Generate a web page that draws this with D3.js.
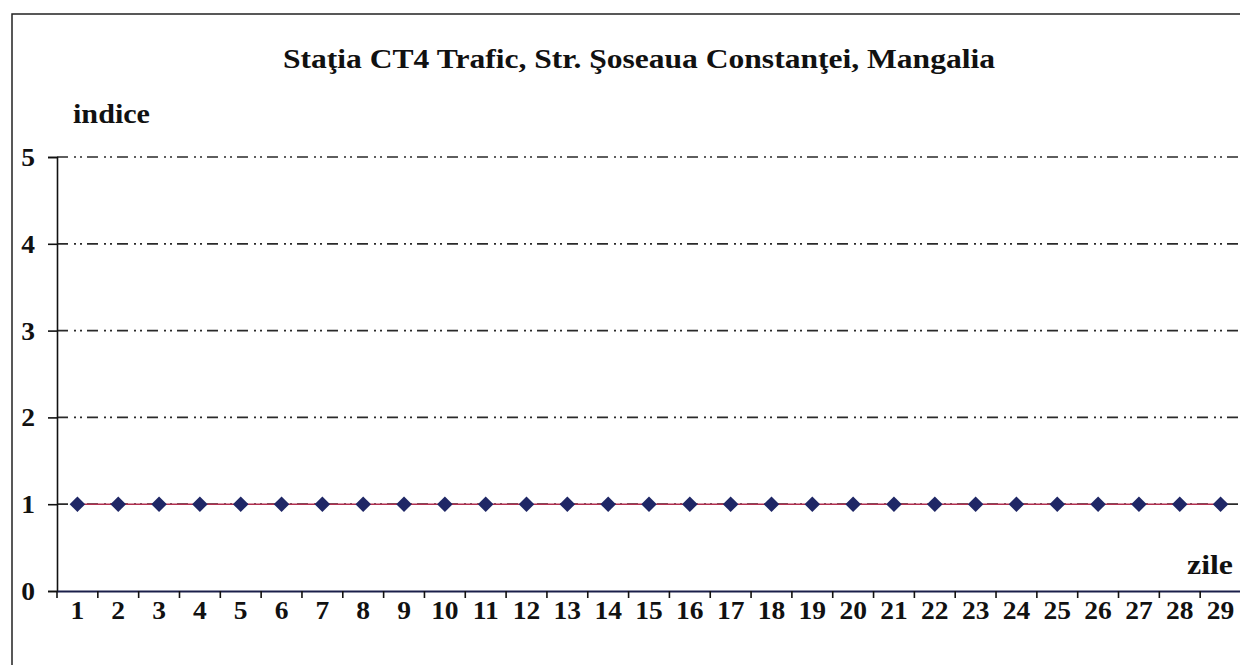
<!DOCTYPE html>
<html>
<head>
<meta charset="utf-8">
<script src="https://cdn.jsdelivr.net/npm/d3@7"></script>
<style>
  body { margin: 0; background: #fff; }
  text { font-family: "Liberation Serif", "Times New Roman", serif; font-weight: bold; fill: #111; }
</style>
</head>
<body>
<div id="chart"></div>
<script>
// days and index values
var zile = ["1","2","3","4","5","6","7","8","9","10","11","12","13","14","15","16","17","18","19","20","21","22","23","24","25","26","27","28","29"];
var indice = [1,1,1,1,1,1,1,1,1,1,1,1,1,1,1,1,1,1,1,1,1,1,1,1,1,1,1,1,1];
var yTicks = [0,1,2,3,4,5];

var width = 1240, height = 665;
var mLeft = 57, mRight = 1241, mTop = 157, mBottom = 591;
// the scanned chart is stretched sideways a little, so text is widened
var stretch = 1.1;

var svg = d3.select("#chart").append("svg")
    .attr("width", width)
    .attr("height", height);

// outer frame
svg.append("rect")
    .attr("x", 12).attr("y", 14)
    .attr("width", 1260).attr("height", 700)
    .attr("fill", "none")
    .attr("stroke", "#222")
    .attr("stroke-width", 1.5);

var xScale = d3.scaleBand().domain(zile).range([mLeft, mRight]);
var yScale = d3.scaleLinear().domain([0, 5]).range([mBottom, mTop]);

// dash-dot-dot grid lines
svg.append("g").selectAll("line")
    .data(yTicks.filter(function(d){ return d > 0; }))
    .enter().append("line")
        .attr("x1", mLeft).attr("x2", mRight)
        .attr("y1", function(d){ return yScale(d); })
        .attr("y2", function(d){ return yScale(d); })
        .attr("stroke", "#2a2a2a")
        .attr("stroke-width", 1.7)
        .attr("stroke-dasharray", "11,6,2,4,2,5");

// y axis
var yAxis = d3.axisLeft(yScale).tickValues(yTicks).tickSize(9).tickFormat(d3.format("d"));
var gy = svg.append("g")
    .attr("transform", "translate(" + mLeft + ",0)")
    .call(yAxis);
gy.select(".domain").attr("stroke", "#111").attr("stroke-width", 1.6);
gy.selectAll(".tick line").attr("stroke", "#111").attr("stroke-width", 1.6);
gy.selectAll("text")
    .attr("x", -29 / stretch)
    .attr("dy", "0.34em")
    .attr("text-anchor", "middle")
    .attr("transform", "scale(" + stretch + ",1)")
    .style("font-size", "25px");

// x axis with ticks at category boundaries
var xAxis = d3.axisBottom(xScale).tickSize(0).tickPadding(10);
var gx = svg.append("g")
    .attr("transform", "translate(0," + mBottom + ")")
    .call(xAxis);
gx.select(".domain").attr("stroke", "#1a1f4a").attr("stroke-width", 2);
gx.selectAll("text")
    .attr("transform", "scale(" + stretch + ",1)")
    .style("font-size", "25px");

svg.append("g").selectAll("line")
    .data(d3.range(zile.length + 1))
    .enter().append("line")
        .attr("x1", function(i){ return mLeft + i * xScale.bandwidth(); })
        .attr("x2", function(i){ return mLeft + i * xScale.bandwidth(); })
        .attr("y1", mBottom).attr("y2", mBottom + 7)
        .attr("stroke", "#111")
        .attr("stroke-width", 1.6);

// series line
var line = d3.line()
    .x(function(d, i){ return xScale(zile[i]) + xScale.bandwidth() / 2; })
    .y(function(d){ return yScale(d); });

svg.append("path")
    .datum(indice)
    .attr("d", line)
    .attr("fill", "none")
    .attr("stroke", "#b03050")
    .attr("stroke-width", 1.6);

// diamond markers
svg.append("g").selectAll("path")
    .data(indice)
    .enter().append("path")
        .attr("transform", function(d, i){
            return "translate(" + (xScale(zile[i]) + xScale.bandwidth() / 2) + "," + yScale(d) + ") rotate(45)";
        })
        .attr("d", "M-5.5,-5.5H5.5V5.5H-5.5Z")
        .attr("fill", "#1f2766");

// titles
svg.append("text")
    .attr("x", 283).attr("y", 68)
    .attr("textLength", 712)
    .attr("lengthAdjust", "spacingAndGlyphs")
    .style("font-size", "27px")
    .text("Staţia CT4 Trafic, Str. Şoseaua Constanţei, Mangalia");

svg.append("text")
    .attr("x", 73).attr("y", 123)
    .attr("textLength", 77)
    .attr("lengthAdjust", "spacingAndGlyphs")
    .style("font-size", "28px")
    .text("indice");

svg.append("text")
    .attr("x", 1187).attr("y", 574)
    .attr("textLength", 46)
    .attr("lengthAdjust", "spacingAndGlyphs")
    .style("font-size", "27px")
    .text("zile");
</script>
</body>
</html>
